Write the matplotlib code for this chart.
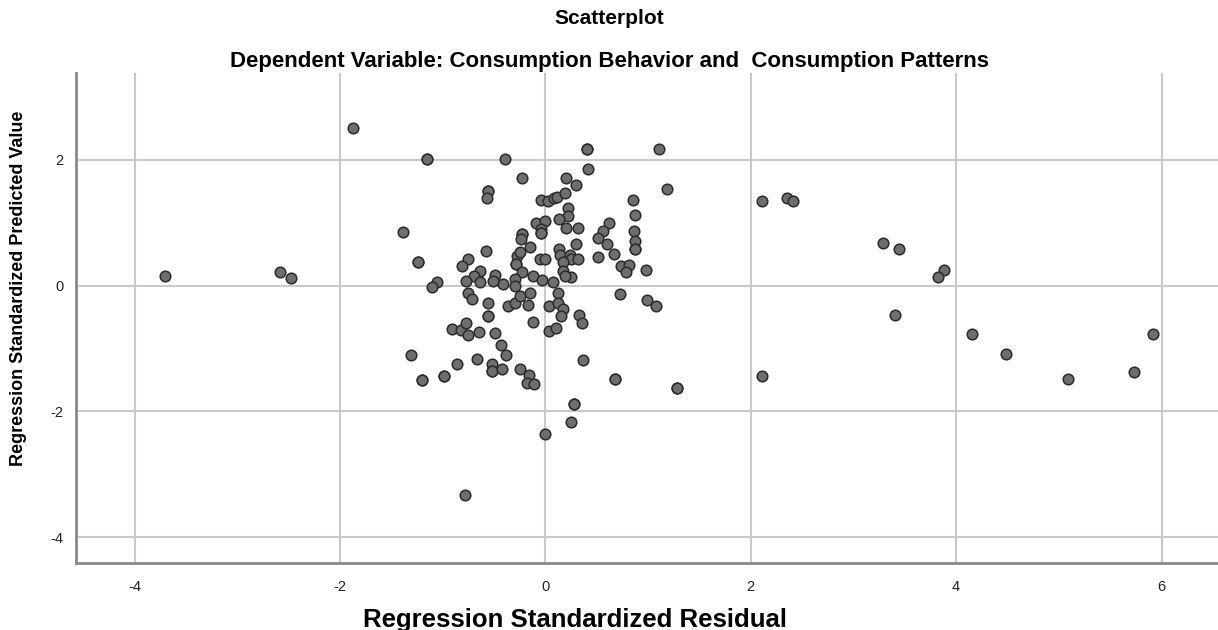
import numpy as np
import matplotlib
matplotlib.use('Agg')
import matplotlib.pyplot as plt

plt.rcParams['font.family'] = ['Liberation Sans', 'DejaVu Sans']
plt.rcParams['axes.unicode_minus'] = False

# standardized residual / standardized predicted value
resid = [
    -3.70, -2.58, -2.48, -1.87, -1.39, -1.31, -0.78, 0.00, 0.25, 0.28, 0.28,
    1.28, 1.28, 0.68, 0.68, 0.37,
    2.11, 2.35, 2.41, 3.29, 3.44, 3.88, 3.82, 2.11, 3.40, 4.15, 4.49, 5.09,
    5.73, 5.92,
    -1.15, -1.15, -0.39, -0.23, -0.56, -0.56, -0.57, -0.04, 0.03, 0.08, 0.11,
    0.41, 0.41, 1.11, 0.42, 0.20, 0.30, 1.18, 0.19, 0.85, 0.22, 0.22, 0.13,
    0.87, -0.09, 0.00, -0.04, -0.04, -0.04, -0.23, -0.23, -0.24, 0.20, 0.32,
    0.62, 0.56, 0.51, 0.60, 0.30, 0.86, 0.87, 0.87, 0.87, -0.15, 0.13, -0.58,
    -1.24, -1.24, -0.28, -0.25, -0.29, -0.29, -0.05, 0.00, 0.14, 0.24, 0.25,
    0.17, 0.32, 0.51, 0.67, 0.74, 0.81, 0.79, 0.98, 0.17, 0.25, 0.19, 0.07,
    -0.12, -0.03, -0.23, -0.30, -0.30, -0.41, -0.49, -0.51, -0.64, -0.69,
    -0.77, -0.64, -0.75, -0.81, -1.05, -1.10,
    -0.75, -0.71, -0.56, -0.56, -0.56, -0.36, -0.30, -0.25, -0.15, -0.17,
    -0.12, 0.04, 0.04, -0.91, -0.82, -0.77, -0.75, -0.65, -0.49, -0.43,
    -0.38, -0.86, -0.67, -0.52, -0.52, -0.52, -0.42, -0.25, -0.16, -0.18,
    -0.11, -1.20, -1.20, -0.99, -0.99, 0.12, 0.73, 0.99, 1.08, 0.12, 0.17,
    0.15, 0.33, 0.36, 0.10,
]
predicted = [
    0.15, 0.21, 0.12, 2.50, 0.85, -1.11, -3.33, -2.36, -2.16, -1.88, -1.88,
    -1.62, -1.62, -1.48, -1.48, -1.18,
    1.35, 1.40, 1.35, 0.68, 0.58, 0.25, 0.14, -1.44, -0.47, -0.77, -1.08,
    -1.48, -1.38, -0.77,
    2.02, 2.02, 2.01, 1.71, 1.51, 1.51, 1.40, 1.36, 1.34, 1.39, 1.41,
    2.18, 2.18, 2.17, 1.85, 1.71, 1.60, 1.53, 1.47, 1.36, 1.23, 1.10, 1.06,
    1.13, 1.00, 1.03, 0.90, 0.83, 0.83, 0.82, 0.82, 0.74, 0.91, 0.91,
    0.99, 0.87, 0.75, 0.67, 0.66, 0.87, 0.71, 0.58, 0.58, 0.62, 0.58, 0.55,
    0.37, 0.37, 0.47, 0.53, 0.34, 0.34, 0.43, 0.42, 0.48, 0.48, 0.42,
    0.38, 0.43, 0.46, 0.50, 0.31, 0.33, 0.21, 0.25, 0.23, 0.13, 0.15, 0.06,
    0.15, 0.09, 0.21, 0.10, 0.00, 0.02, 0.17, 0.07, 0.23, 0.15,
    0.07, 0.06, 0.42, 0.31, 0.06, -0.02,
    -0.12, -0.21, -0.28, -0.48, -0.48, -0.33, -0.27, -0.17, -0.11, -0.30,
    -0.57, -0.32, -0.72, -0.69, -0.71, -0.60, -0.78, -0.74, -0.76, -0.95,
    -1.10, -1.25, -1.16, -1.24, -1.36, -1.36, -1.32, -1.33, -1.42, -1.54,
    -1.56, -1.50, -1.50, -1.44, -1.44, -0.11, -0.14, -0.23, -0.33, -0.27,
    -0.37, -0.48, -0.47, -0.59, -0.67,
]
x_ticks = [-4, -2, 0, 2, 4, 6]
y_ticks = [-4, -2, 0, 2]

fig = plt.figure(figsize=(12.18, 6.3), dpi=100)
ax = fig.add_axes([0.0624, 0.1063, 0.9376, 0.7777])

ax.scatter(resid, predicted, s=58, facecolor='#6e6e6e', edgecolor='#2b2b2b',
           linewidth=1.1, zorder=3)

ax.set_xlim(-4.57, 6.55)
ax.set_ylim(-4.41, 3.38)
ax.set_xticks(x_ticks)
ax.set_yticks(y_ticks)
ax.tick_params(length=0, labelsize=10.5, colors='#222222')
ax.tick_params(axis='x', pad=12)
ax.tick_params(axis='y', pad=9)
ax.grid(True, color='#c9c9c9', linewidth=1.5, zorder=0)
ax.set_axisbelow(True)

for side in ['top', 'right']:
    ax.spines[side].set_visible(False)
for side in ['left', 'bottom']:
    ax.spines[side].set_color('#8a8a8a')
    ax.spines[side].set_linewidth(2)

ax.set_xlabel('Regression Standardized Residual', fontsize=18.5,
              fontweight='bold')
ax.xaxis.set_label_coords(0.437, -0.092)
ax.set_ylabel('Regression Standardized Predicted Value', fontsize=13,
              fontweight='bold')
ax.yaxis.set_label_coords(-0.043, 0.56)

fig.text(0.5, 0.971, 'Scatterplot', ha='center', va='center', fontsize=15,
         fontweight='bold')
fig.text(0.5, 0.903,
         'Dependent Variable: Consumption Behavior and  Consumption Patterns',
         ha='center', va='center', fontsize=16, fontweight='bold')

fig.savefig('out.png', dpi=100)
